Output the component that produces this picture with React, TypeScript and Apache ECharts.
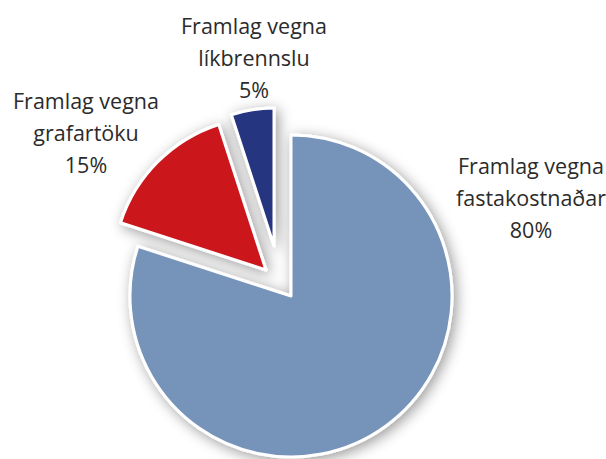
import React, { useEffect, useRef } from "react";
import * as echarts from "echarts";

const categories = [
  "Framlag vegna fastakostnaðar",
  "Framlag vegna grafartöku",
  "Framlag vegna líkbrennslu",
];
const shares = [80, 15, 5];
const colors = ["#7694b9", "#cb171d", "#28347f"];

// layout per slice (center, radius, label anchor)
const sliceLayout = [
  { center: [291, 296], radius: 161, label: [531, 197] },
  { center: [266, 270], radius: 153, label: [86, 132] },
  { center: [274, 246], radius: 138, label: [254, 57] },
];

export default function App() {
  const ref = useRef<HTMLDivElement>(null);
  useEffect(() => {
    if (!ref.current) return;
    const chart = echarts.init(ref.current, undefined, { renderer: "svg" });
    const series = sliceLayout.map((lay, si) => ({
      type: "pie",
      center: lay.center,
      radius: lay.radius,
      startAngle: 90,
      clockwise: true,
      silent: true,
      z: 2 + si,
      labelLine: { show: false },
      labelLayout: {
        x: lay.label[0],
        y: lay.label[1],
        align: "center",
        verticalAlign: "middle",
      },
      data: categories.map((name, i) => {
        const visible = i === si;
        return {
          name,
          value: shares[i],
          itemStyle: visible
            ? {
                color: colors[i],
                borderColor: "#ffffff",
                borderWidth: 3,
                shadowBlur: 14,
                shadowOffsetX: 3,
                shadowOffsetY: 3,
                shadowColor: "rgba(0,0,0,0.4)",
              }
            : { color: "transparent", borderWidth: 0, shadowBlur: 0 },
          label: visible
            ? {
                show: true,
                position: "outside",
                overflow: "none",
                formatter: (p: any) =>
                  p.name.replace(" vegna ", " vegna\n") + "\n" + p.value + "%",
                color: "#2b2b2b",
                fontFamily: "Open Sans",
                fontSize: 21.5,
                lineHeight: 32,
                align: "center",
              }
            : { show: false },
        };
      }),
    }));
    chart.setOption({
      animation: false,
      backgroundColor: "#ffffff",
      series,
    });
    return () => chart.dispose();
  }, []);
  return <div ref={ref} style={{ width: 606, height: 459, position: "absolute", left: 0, top: 0 }} />;
}
